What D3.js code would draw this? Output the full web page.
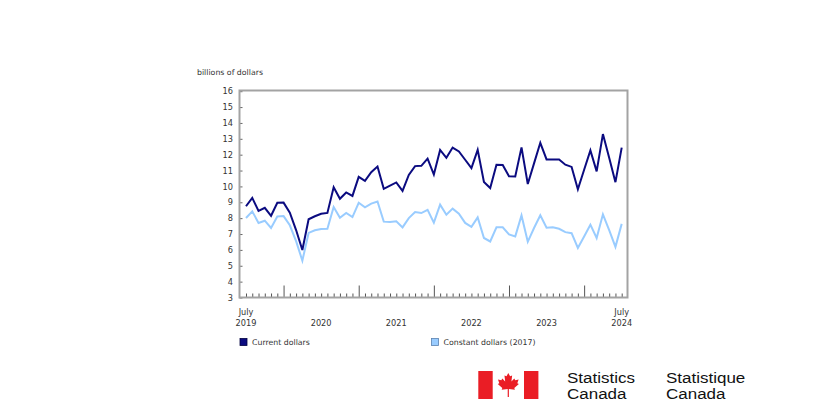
<!DOCTYPE html>
<html>
<head>
<meta charset="utf-8">
<script src="https://cdn.jsdelivr.net/npm/d3@7"></script>
<style>
  html, body { margin: 0; padding: 0; background: #fff; }
  svg { display: block; }
</style>
</head>
<body>
<svg id="chart" width="840" height="420"></svg>
<script>
// ---------- data ----------
const months = d3.timeMonth.range(new Date(2019, 6, 1), new Date(2024, 7, 1)).map(d3.timeFormat("%Y-%m"));
const currentDollars = [
  8.75, 9.28, 8.45, 8.65, 8.15, 8.97, 8.98, 8.35, 7.25, 5.99,
  7.93, 8.12, 8.28, 8.33, 9.95, 9.22, 9.62, 9.40, 10.60, 10.35,
  10.90, 11.25, 9.85, 10.05, 10.25, 9.72, 10.72, 11.28, 11.30, 11.75,
  10.75, 12.30, 11.80, 12.45, 12.20, 11.68, 11.15, 12.30, 10.28, 9.90,
  11.37, 11.35, 10.64, 10.62, 12.46, 10.15, 11.45, 12.75, 11.70, 11.70,
  11.70, 11.37, 11.23, 9.82, 11.05, 12.27, 10.95, 13.30, 11.80, 10.27,
  12.44
];
const constantDollars = [
  8.01, 8.43, 7.70, 7.84, 7.38, 8.11, 8.13, 7.55, 6.55, 5.32,
  7.07, 7.24, 7.32, 7.33, 8.70, 8.03, 8.33, 8.07, 8.97, 8.68,
  8.92, 9.05, 7.78, 7.76, 7.80, 7.42, 8.00, 8.38, 8.32, 8.52,
  7.72, 8.85, 8.22, 8.60, 8.28, 7.70, 7.45, 8.05, 6.75, 6.53,
  7.42, 7.42, 6.98, 6.85, 8.17, 6.51, 7.38, 8.18, 7.40, 7.42,
  7.33, 7.12, 7.05, 6.12, 6.85, 7.59, 6.75, 8.24, 7.24, 6.19,
  7.64
];
const yTicks = [3, 4, 5, 6, 7, 8, 9, 10, 11, 12, 13, 14, 15, 16];
const majorTickMonths = ["2020-01", "2021-01", "2022-01", "2023-01", "2024-01"];
const yearLabelMonths = ["2019-07", "2020-07", "2021-07", "2022-07", "2023-07", "2024-07"];
const yearLabels = ["2019", "2020", "2021", "2022", "2023", "2024"];
const monthLabelMonths = ["2019-07", "2024-07"];
const monthLabels = ["July", "July"];
const seriesNames = ["Current dollars", "Constant dollars (2017)"];
const yAxisTitle = "billions of dollars";

// ---------- layout ----------
const svg = d3.select("#chart");
const font = "'DejaVu Sans', Verdana, sans-serif";
const frame = { left: 239.5, right: 627.5, top: 90.5, bottom: 297.5 };

const x = d3.scalePoint().domain(months).range([246, 621.7]);
const y = d3.scaleLinear().domain([3, 16]).range([297.5, 91.2]);

// y axis title
svg.append("text")
  .attr("x", 197).attr("y", 74.5)
  .attr("font-family", font).attr("font-size", 7.8).attr("fill", "#333")
  .text(yAxisTitle);

// y axis
const yAxis = svg.append("g")
  .attr("transform", `translate(${frame.left},0)`)
  .call(d3.axisLeft(y).tickValues(yTicks).tickSizeInner(-3).tickSizeOuter(0).tickPadding(6.5));
yAxis.select(".domain").remove();
yAxis.selectAll("line").attr("stroke", "#666");
yAxis.selectAll("text").attr("font-family", font).attr("font-size", 8.2).attr("fill", "#333");

// x axis: minor ticks
const xMinor = svg.append("g")
  .attr("transform", `translate(0,${frame.bottom})`)
  .call(d3.axisBottom(x).tickValues(months.filter(m => !majorTickMonths.includes(m))).tickSizeInner(-4).tickSizeOuter(0).tickFormat(""));
xMinor.select(".domain").remove();
xMinor.selectAll("line").attr("stroke", "#555");

// x axis: major ticks
const xMajor = svg.append("g")
  .attr("transform", `translate(0,${frame.bottom})`)
  .call(d3.axisBottom(x).tickValues(majorTickMonths).tickSizeInner(-12).tickSizeOuter(0).tickFormat(""));
xMajor.select(".domain").remove();
xMajor.selectAll("line").attr("stroke", "#555");

// x labels
svg.append("g").selectAll("text").data(yearLabelMonths).join("text")
  .attr("x", d => x(d)).attr("y", 326)
  .attr("text-anchor", "middle")
  .attr("font-family", font).attr("font-size", 8.2).attr("fill", "#333")
  .text((d, i) => yearLabels[i]);
svg.append("g").selectAll("text").data(monthLabelMonths).join("text")
  .attr("x", d => x(d)).attr("y", 314.5)
  .attr("text-anchor", "middle")
  .attr("font-family", font).attr("font-size", 8.2).attr("fill", "#333")
  .text((d, i) => monthLabels[i]);

// frame
svg.append("rect")
  .attr("x", frame.left).attr("y", frame.top)
  .attr("width", frame.right - frame.left).attr("height", frame.bottom - frame.top)
  .attr("fill", "none").attr("stroke", "#a3a3a3").attr("stroke-width", 2);

// lines
const colors = ["#0b0b80", "#99ccff"];
const series = [currentDollars, constantDollars];
const line = d3.line().x((d, i) => x(months[i])).y(d => y(d));
svg.append("g").selectAll("path").data(series.slice().reverse()).join("path")
  .attr("d", line)
  .attr("fill", "none")
  .attr("stroke", (d, i) => colors[1 - i])
  .attr("stroke-width", 2)
  .attr("stroke-linejoin", "miter");

// legend
const legendX = [240, 431.5];
const legendBorder = ["#000040", "#5a82b0"];
const lg = svg.append("g").selectAll("g").data(seriesNames).join("g")
  .attr("transform", (d, i) => `translate(${legendX[i]},338.5)`);
lg.append("rect").attr("width", 7).attr("height", 7)
  .attr("fill", (d, i) => colors[i]).attr("stroke", (d, i) => legendBorder[i]).attr("stroke-width", 0.8);
lg.append("text").attr("x", 12).attr("y", 6.8)
  .attr("font-family", font).attr("font-size", 7.8).attr("fill", "#333")
  .text(d => d);

// logo
const red = "#ea1d25";
const logo = svg.append("g");
logo.append("rect").attr("x", 478.3).attr("y", 371).attr("width", 14.4).attr("height", 28).attr("fill", red);
logo.append("rect").attr("x", 524).attr("y", 371).attr("width", 14.4).attr("height", 28).attr("fill", red);
const leafHalf = [
  [0, -1.0], [0.15, -0.72], [0.32, -0.8], [0.26, -0.3], [0.5, -0.55], [0.58, -0.4],
  [0.86, -0.46], [0.75, -0.15], [0.88, -0.08], [0.5, 0.25], [0.55, 0.4], [0.05, 0.33], [0.05, 1.0]
];
const leaf = leafHalf.concat(leafHalf.slice(1).reverse().map(p => [-p[0], p[1]]));
logo.append("path")
  .attr("d", d3.line()(leaf.map(p => [508.3 + p[0] * 12, 385 + p[1] * 12])) + "Z")
  .attr("fill", red);
const logoFont = "'Liberation Sans', Arial, sans-serif";
const logoText = [["Statistics", 567, 383], ["Canada", 567, 399], ["Statistique", 666, 383], ["Canada", 666, 399]];
logo.selectAll("text").data(logoText).join("text")
  .attr("transform", d => `translate(${d[1]},${d[2]}) scale(1,0.84)`)
  .attr("font-family", logoFont).attr("font-size", 17).attr("fill", "#111")
  .text(d => d[0]);
</script>
</body>
</html>
